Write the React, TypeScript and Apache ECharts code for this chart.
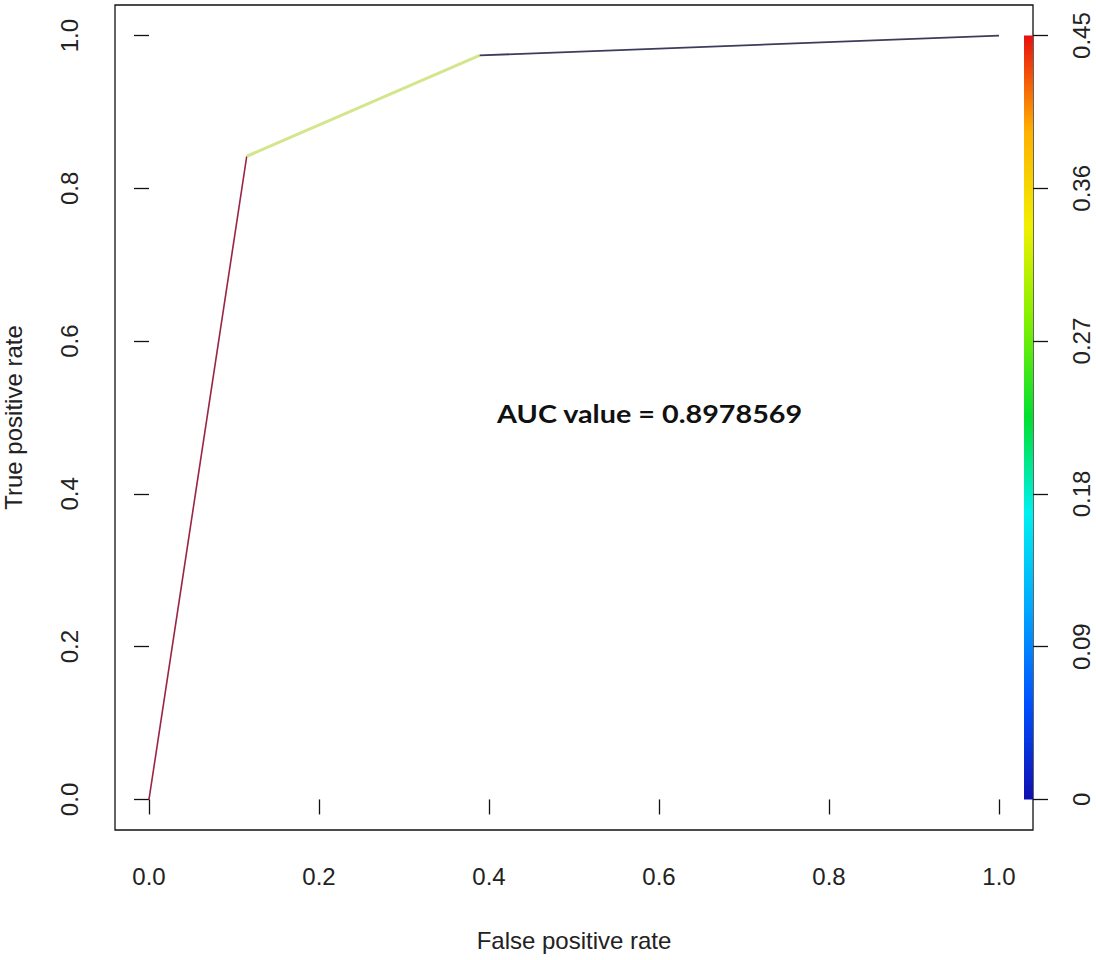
import React, { useEffect, useRef } from "react";
import * as echarts from "echarts";

const fpr = [0, 0.115, 0.389, 1.0];
const tpr = [0, 0.842, 0.974, 1.0];
const segColors = ["#9a2444", "#d4e68c", "#3c3c5c"];
const segWidths = [1.6, 3, 1.8];
const rateTicks = [0, 0.2, 0.4, 0.6, 0.8, 1.0];
const cutoffTicks = [0, 0.09, 0.18, 0.27, 0.36, 0.45];
const cutoffMax = 0.45;
const aucText = "AUC value = 0.8978569";
const aucPos = [0.589, 0.506];
const rainbowStops = ["#1010b0", "#0050ff", "#00a8ff", "#00f0f0", "#00e030", "#80f000", "#f0f000", "#ffb000", "#e81010"];

const FONT = "Liberation Sans";

export default function App() {
  const ref = useRef<HTMLDivElement>(null);
  useEffect(() => {
    if (!ref.current) return;
    const chart = echarts.init(ref.current, null, { renderer: "svg" });
    const pad = 0.04;
    const series: any[] = [];
    for (let i = 0; i < fpr.length - 1; i++) {
      series.push({
        type: "line",
        data: [
          [fpr[i], tpr[i]],
          [fpr[i + 1], tpr[i + 1]],
        ],
        showSymbol: false,
        symbol: "none",
        lineStyle: { color: segColors[i], width: segWidths[i] },
        xAxisIndex: 0,
        yAxisIndex: 0,
        z: 3,
      });
    }
    const labelStyle = { fontFamily: FONT, fontSize: 24, color: "#222" };
    chart.setOption({
      animation: false,
      backgroundColor: "#ffffff",
      grid: {
        left: 115,
        right: 63,
        top: 5,
        bottom: 130,
        show: true,
        borderColor: "#111",
        borderWidth: 1.3,
        backgroundColor: "transparent",
        containLabel: false,
        outerBoundsMode: "none",
      },
      xAxis: {
        type: "value",
        min: -pad,
        max: 1 + pad,
        splitLine: { show: false },
        axisLine: { show: false },
        axisTick: { show: true, length: 15, customValues: rateTicks, lineStyle: { color: "#111", width: 1.3 } },
        axisLabel: { ...labelStyle, margin: 34, customValues: rateTicks, formatter: (v: number) => v.toFixed(1) },
        name: "False positive rate",
        nameLocation: "middle",
        nameGap: 98,
        nameTextStyle: { fontFamily: FONT, fontSize: 24, color: "#222" },
      },
      yAxis: [
        {
          type: "value",
          min: -pad,
          max: 1 + pad,
          splitLine: { show: false },
          axisLine: { show: false },
          axisTick: { show: true, length: 15, customValues: rateTicks, lineStyle: { color: "#111", width: 1.3 } },
          axisLabel: { ...labelStyle, margin: 34, rotate: 90, customValues: rateTicks, formatter: (v: number) => v.toFixed(1) },
          name: "True positive rate",
          nameLocation: "middle",
          nameGap: 90,
          nameRotate: 90,
          nameTextStyle: { fontFamily: FONT, fontSize: 24, color: "#222" },
        },
        {
          type: "value",
          position: "right",
          min: -pad * cutoffMax,
          max: (1 + pad) * cutoffMax,
          splitLine: { show: false },
          axisLine: { show: false },
          axisTick: { show: true, length: 15, customValues: cutoffTicks, lineStyle: { color: "#111", width: 1.3 } },
          axisLabel: {
            ...labelStyle,
            margin: 36,
            rotate: 90,
            customValues: cutoffTicks,
            formatter: (v: number) => (Math.abs(v) < 1e-9 ? "0" : String(Math.round(v * 100) / 100)),
          },
        },
      ],
      series,
    });

    const yTop = chart.convertToPixel({ yAxisIndex: 1 }, cutoffMax) as number;
    const yBot = chart.convertToPixel({ yAxisIndex: 0 }, 0) as number;
    const xRight = chart.convertToPixel({ xAxisIndex: 0 }, 1 + pad) as number;
    const pt = chart.convertToPixel({ xAxisIndex: 0, yAxisIndex: 0 }, aucPos) as number[];
    const n = rainbowStops.length;
    chart.setOption({
      graphic: [
        {
          type: "rect",
          shape: { x: xRight - 9, y: yTop, width: 9, height: yBot - yTop },
          style: {
            fill: new echarts.graphic.LinearGradient(
              0,
              1,
              0,
              0,
              rainbowStops.map((c, i) => ({ offset: i / (n - 1), color: c }))
            ),
          },
          z: 5,
        },
        {
          type: "text",
          x: pt[0],
          y: pt[1],
          scaleX: 1.15,
          style: {
            text: aucText,
            fontFamily: "Lato",
            fontWeight: "bold",
            fontSize: 25,
            fill: "#111",
            align: "center",
            verticalAlign: "middle",
          },
          z: 6,
        },
      ],
    });
    return () => chart.dispose();
  }, []);
  return <div ref={ref} style={{ position: "absolute", left: 0, top: 0, width: 1096, height: 960 }} />;
}
